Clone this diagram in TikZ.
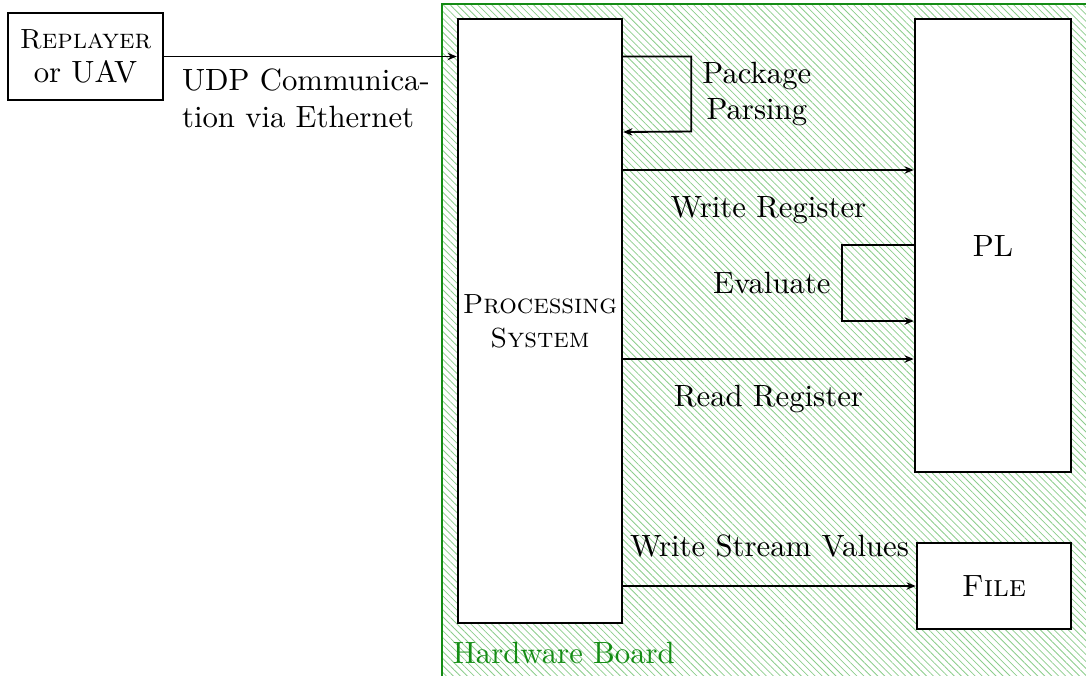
\documentclass[tikz,border=0pt]{standalone}
\usetikzlibrary{arrows.meta, positioning, backgrounds, patterns.meta}
\definecolor{boardgreen}{RGB}{20,140,20}
\definecolor{hatchgreen}{RGB}{140,205,140}

\begin{document}
\begin{tikzpicture}[
        x=0.011427cm, y=-0.011427cm,
        box/.style={rectangle, draw, thick, fill=white, align=center},
        capsbox/.style={box, inner xsep=1pt, font=\small\scshape},
        arrow/.style={-{Stealth[length=3pt, width=2.4pt]}, semithick},
        board/.style={draw=boardgreen, semithick, pattern={Lines[angle=-45, distance=1.6pt, line width=0.25pt]}, pattern color=hatchgreen}
    ]
        \useasboundingbox (0,0) rectangle (1086,675);

        % Boxes
        \node[capsbox, minimum width=1.771cm, minimum height=0.994cm] (replayer) at (85.5,56.5) {Replayer\\\normalfont\normalsize or UAV};
        \node[capsbox, minimum width=1.874cm, minimum height=6.902cm] (ps) at (540,321) {Processing\\System};
        \node[box, minimum width=1.783cm, minimum height=5.177cm] (pl) at (993,245.5) {PL};
        \node[box, minimum width=1.760cm, minimum height=0.983cm] (file) at (994,586) {\textsc{File}};

        % Rows of the connectors
        \coordinate (parseback) at (0,132);
        \coordinate (wrrow) at (0,170);
        \coordinate (evalout) at (0,245);
        \coordinate (evalback) at (0,321);
        \coordinate (rdrow) at (0,359);

        % UDP link
        \draw[arrow] (replayer.east) -- (replayer.east -| ps.west);
        \node[below right=0.02cm and 0.08cm of replayer.east, align=left] (udp) {UDP Communica-\\tion via Ethernet};

        % Package parsing loop
        \draw[arrow] (replayer.east -| ps.east) -- ++(68,0)
            -- node[right, align=center] (parse) {Package\\Parsing} ++(0,75)
            -- (ps.east |- parseback);

        % Registers
        \draw[arrow] (ps.east |- wrrow) -- (pl.west |- wrrow) node[midway, below=0.17cm] (wreg) {Write Register};
        \draw[arrow] (pl.west |- evalout) -- ++(-72,0)
            -- node[left] (eval) {Evaluate} ++(0,76)
            -- (pl.west |- evalback);
        \draw[arrow] (ps.east |- rdrow) -- (pl.west |- rdrow) node[midway, below=0.17cm] (rreg) {Read Register};

        % Output
        \draw[arrow] (ps.east |- file.west) -- (file.west) node[midway, above=0.2cm] (wstream) {Write Stream Values};

        % Hardware board
        \node[anchor=south west, text=boardgreen] (hwlabel) at (442,675) {Hardware Board};
        \begin{scope}[on background layer]
            \path[board] (442,4) rectangle (1100,690);
        \end{scope}

    \end{tikzpicture}
\end{document}
